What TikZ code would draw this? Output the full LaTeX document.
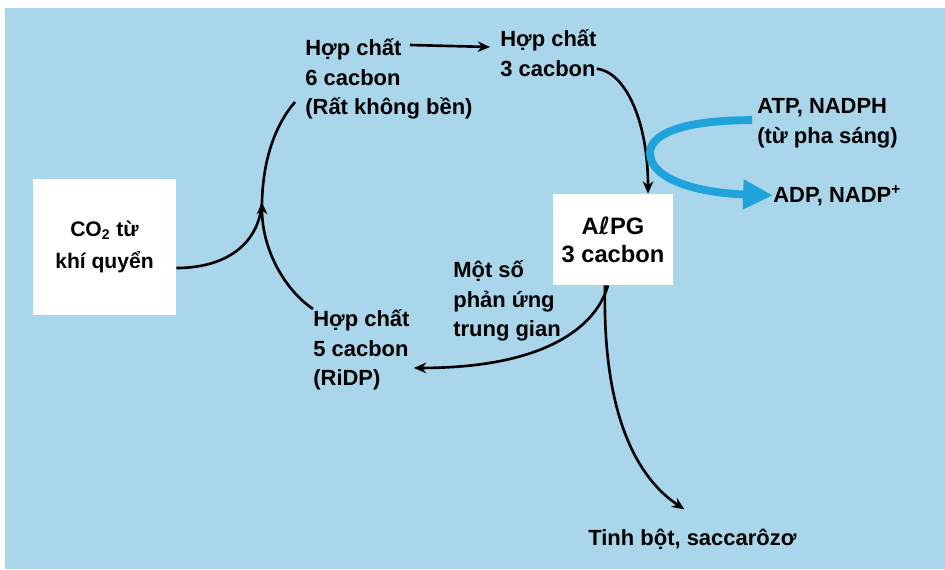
\documentclass[tikz,border=0pt]{standalone}
\usepackage{fontspec}
\setmainfont{Liberation Sans}
\newfontfamily\symfont{DejaVu Sans}
\usepackage{xcolor}
\usetikzlibrary{arrows.meta,positioning}
\definecolor{StromaBG}   {HTML}{A9D6EA}
\definecolor{LightFlow}  {HTML}{1EA3DA}

\tikzset{
  lbl/.style={inner sep=0pt,align=left,font=\fontsize{12.5}{17}\selectfont\bfseries},
  box/.style={fill=white,inner sep=0pt,align=center},
  flow/.style={-{Stealth[length=7pt,width=6pt]},line width=1.5pt},
  link/.style={line width=1.5pt},
  lightflow/.style={-{Triangle[length=17pt,width=16pt]},line width=4.5pt,draw=LightFlow},
}

\begin{document}
\begin{tikzpicture}[x=0.02cm,y=-0.02cm]
    \useasboundingbox (0,0) rectangle (945,569);
    \fill[white] (0,0) rectangle (945,569);
    \fill[StromaBG] (5,8) rectangle (945,569);

    % boxes
    \node[box,minimum width=2.86cm,minimum height=2.72cm,
          font=\fontsize{12}{18}\selectfont\bfseries] (co2) at (104.5,247)
          {CO\textsubscript{2} từ\\khí quyển};
    \node[box,minimum width=2.4cm,minimum height=1.82cm,
          font=\fontsize{13.5}{16}\selectfont\bfseries] (alpg) at (613,239.5)
          {A{\symfont ℓ}PG\\3 cacbon};

    % labels
    \node[lbl,anchor=north west] (c6)  at (305,38)  {Hợp chất\\6 cacbon\\(Rất không bền)};
    \node[lbl,anchor=north west] (c3)  at (500,29)  {Hợp chất\\3 cacbon};
    \node[lbl,anchor=north west] (atp) at (757,98)  {ATP, NADPH\\(từ pha sáng)};
    \node[lbl,anchor=base west]  (adp) at (773,202) {ADP, NADP\textsuperscript{+}};
    \node[lbl,anchor=north west] (mid) at (453,260) {Một số\\phản ứng\\trung gian};
    \node[lbl,anchor=north west] (rib) at (313,309) {Hợp chất\\5 cacbon\\(RiDP)};
    \node[lbl,anchor=base west]  (sug) at (588,545) {Tinh bột, saccarôzơ};

    % cycle
    \coordinate (j) at (262,202);
    \draw[link] ([yshift=-0.42cm]co2.east) .. controls (225,268) and (259,245) .. (j);
    \draw[flow] (rib.north west) .. controls (285,290) and (262,250) .. (j);
    \draw[link] (j) .. controls (263,160) and (275,125) .. ([shift={(-0.2cm,-0.46cm)}]c6.west);
    \draw[flow] ([shift={(2.1cm,-0.14cm)}]c6.north west) -- ([shift={(-0.2cm,-0.36cm)}]c3.north west);
    \draw[flow] ([yshift=0.16cm]c3.south east) .. controls (625,72) and (648,120) .. ([xshift=0.7cm]alpg.north);
    \draw[flow] ([xshift=-0.1cm]alpg.south) .. controls (595,330) and (540,368) .. ([shift={(0.08cm,-0.36cm)}]rib.east);
    \draw[flow] ([xshift=-0.16cm]alpg.south) .. controls (602,420) and (640,480) .. ([shift={(-0.16cm,0.38cm)}]sug.north);

    % light reaction products
    \draw[lightflow] ([shift={(-0.1cm,0.06cm)}]atp.west) .. controls (680,120) and (650,135) .. (650,153)
          .. controls (650,180) and (700,193) .. (adp.west);
\end{tikzpicture}
\end{document}
